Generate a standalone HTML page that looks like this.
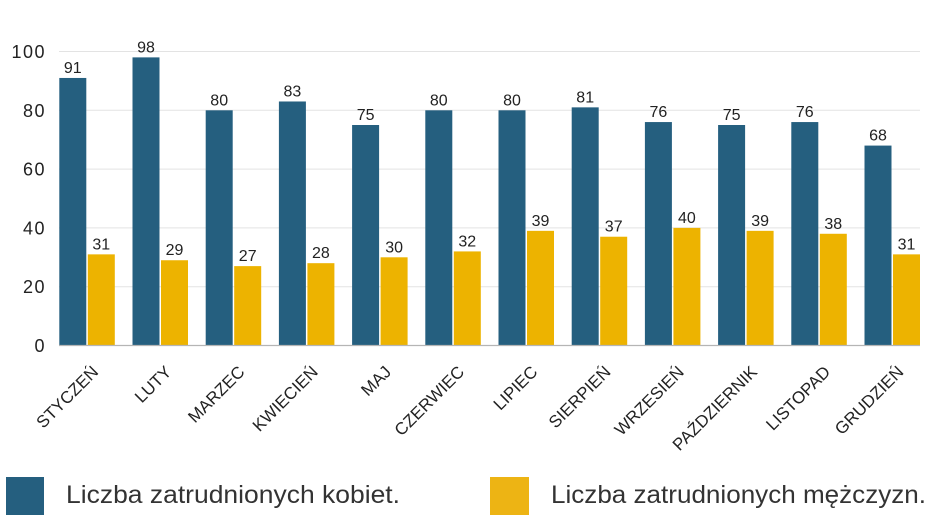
<!DOCTYPE html>
<html>
<head>
<meta charset="utf-8">
<style>
html,body{margin:0;padding:0;background:#fff;}
svg{display:block;}
text{font-family:"Liberation Sans",sans-serif;}
</style>
</head>
<body>
<svg width="948" height="528" viewBox="0 0 948 528" xmlns="http://www.w3.org/2000/svg">
<rect width="948" height="528" fill="#fff"/>
<!-- grid -->
<g stroke="#e3e3e3" stroke-width="1">
<line x1="59" y1="51.5" x2="920" y2="51.5"/>
<line x1="59" y1="110.3" x2="920" y2="110.3"/>
<line x1="59" y1="169.1" x2="920" y2="169.1"/>
<line x1="59" y1="227.9" x2="920" y2="227.9"/>
<line x1="59" y1="286.7" x2="920" y2="286.7"/>
</g>
<!-- y labels -->
<g font-size="18" fill="#222" text-anchor="end" letter-spacing="1.5">
<text x="46" y="58">100</text>
<text x="46" y="116.8">80</text>
<text x="46" y="175.6">60</text>
<text x="46" y="234.4">40</text>
<text x="46" y="293.2">20</text>
<text x="46" y="352">0</text>
</g>
<!-- blue bars -->
<g fill="#255F7F">
<rect x="59.3" y="77.96" width="27" height="267.54"/>
<rect x="132.5" y="57.38" width="27" height="288.12"/>
<rect x="205.7" y="110.3" width="27" height="235.2"/>
<rect x="278.9" y="101.48" width="27" height="244.02"/>
<rect x="352.1" y="125" width="27" height="220.5"/>
<rect x="425.3" y="110.3" width="27" height="235.2"/>
<rect x="498.5" y="110.3" width="27" height="235.2"/>
<rect x="571.7" y="107.36" width="27" height="238.14"/>
<rect x="644.9" y="122.06" width="27" height="223.44"/>
<rect x="718.1" y="125" width="27" height="220.5"/>
<rect x="791.3" y="122.06" width="27" height="223.44"/>
<rect x="864.5" y="145.58" width="27" height="199.92"/>
</g>
<!-- yellow bars -->
<g fill="#EDB300">
<rect x="87.8" y="254.36" width="27" height="91.14"/>
<rect x="161" y="260.24" width="27" height="85.26"/>
<rect x="234.2" y="266.12" width="27" height="79.38"/>
<rect x="307.4" y="263.18" width="27" height="82.32"/>
<rect x="380.6" y="257.3" width="27" height="88.2"/>
<rect x="453.8" y="251.42" width="27" height="94.08"/>
<rect x="527" y="230.84" width="27" height="114.66"/>
<rect x="600.2" y="236.72" width="27" height="108.78"/>
<rect x="673.4" y="227.9" width="27" height="117.6"/>
<rect x="746.6" y="230.84" width="27" height="114.66"/>
<rect x="819.8" y="233.78" width="27" height="111.72"/>
<rect x="893" y="254.36" width="27" height="91.14"/>
</g>
<!-- axis -->
<line x1="59" y1="345.5" x2="920" y2="345.5" stroke="#b5b5b5" stroke-width="1.2"/>
<!-- value labels -->
<g font-size="16" fill="#222" text-anchor="middle">
<text x="72.8" y="73">91</text>
<text x="146" y="52.4">98</text>
<text x="219.2" y="105.3">80</text>
<text x="292.4" y="96.5">83</text>
<text x="365.6" y="120">75</text>
<text x="438.8" y="105.3">80</text>
<text x="512" y="105.3">80</text>
<text x="585.2" y="102.4">81</text>
<text x="658.4" y="117.1">76</text>
<text x="731.6" y="120">75</text>
<text x="804.8" y="117.1">76</text>
<text x="878" y="140.6">68</text>

<text x="101.3" y="249.4">31</text>
<text x="174.5" y="255.2">29</text>
<text x="247.7" y="261.1">27</text>
<text x="320.9" y="258.2">28</text>
<text x="394.1" y="252.3">30</text>
<text x="467.3" y="246.4">32</text>
<text x="540.5" y="225.8">39</text>
<text x="613.7" y="231.7">37</text>
<text x="686.9" y="222.9">40</text>
<text x="760.1" y="225.8">39</text>
<text x="833.3" y="228.8">38</text>
<text x="906.5" y="249.4">31</text>
</g>
<!-- x labels -->
<g font-size="17" fill="#222" text-anchor="end">
<text transform="translate(99.3,373) rotate(-45)">STYCZEŃ</text>
<text transform="translate(172.5,373) rotate(-45)">LUTY</text>
<text transform="translate(245.7,373) rotate(-45)">MARZEC</text>
<text transform="translate(318.9,373) rotate(-45)">KWIECIEŃ</text>
<text transform="translate(392.1,373) rotate(-45)">MAJ</text>
<text transform="translate(465.3,373) rotate(-45)">CZERWIEC</text>
<text transform="translate(538.5,373) rotate(-45)">LIPIEC</text>
<text transform="translate(611.7,373) rotate(-45)">SIERPIEŃ</text>
<text transform="translate(684.9,373) rotate(-45)">WRZESIEŃ</text>
<text transform="translate(758.1,373) rotate(-45)">PAŹDZIERNIK</text>
<text transform="translate(831.3,373) rotate(-45)">LISTOPAD</text>
<text transform="translate(904.5,373) rotate(-45)">GRUDZIEŃ</text>
</g>
<!-- legend -->
<rect x="6" y="477" width="38" height="38" fill="#255F7F"/>
<text x="66" y="503" font-size="25" fill="#333" textLength="334" lengthAdjust="spacingAndGlyphs">Liczba zatrudnionych kobiet.</text>
<rect x="490" y="477" width="39" height="38" fill="#EDB414"/>
<text x="551" y="503" font-size="25" fill="#333" textLength="375" lengthAdjust="spacingAndGlyphs">Liczba zatrudnionych mężczyzn.</text>
</svg>
</body>
</html>
